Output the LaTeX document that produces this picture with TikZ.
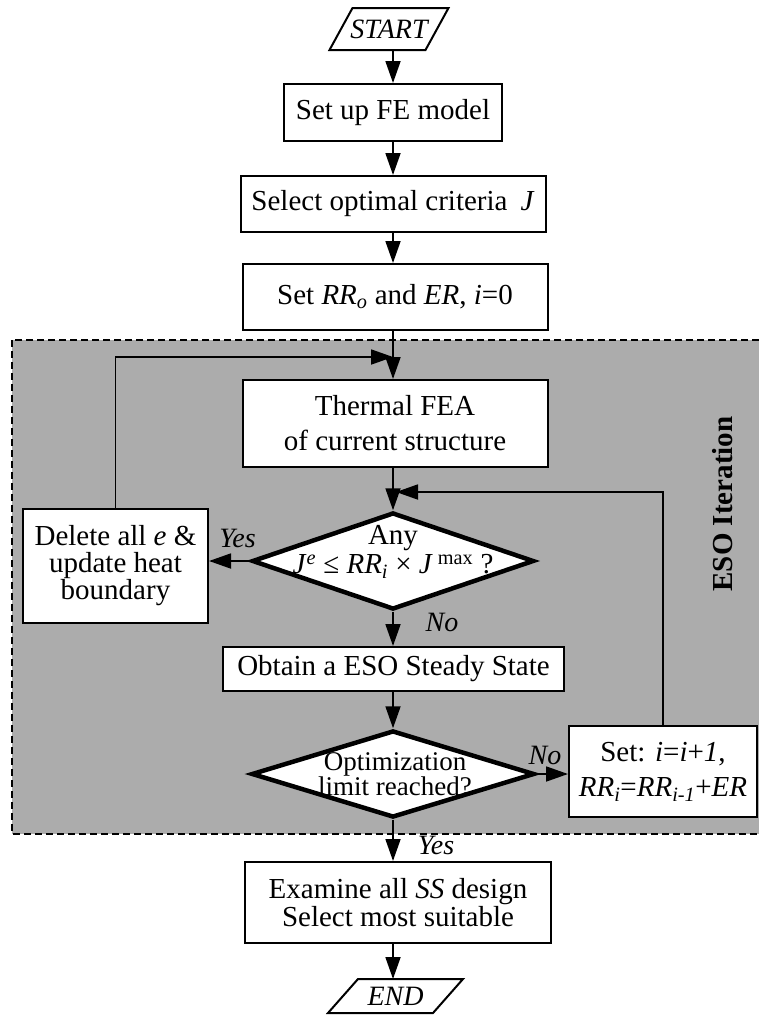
\documentclass[tikz,border=0pt]{standalone}
\usepackage{fontspec}
\setmainfont{Liberation Serif}
\usetikzlibrary{arrows.meta,shapes.geometric,calc}
\definecolor{esogray}{RGB}{172,172,172}
\tikzset{
  box/.style={draw, line width=2pt, fill=white, inner sep=0pt, align=center,
    font=\fontsize{29}{35}\selectfont},
  dia/.style={diamond, draw, line width=4.5pt, fill=white, inner sep=0pt},
  diatext/.style={align=center, inner sep=0pt},
  io/.style={rectangle, inner sep=0pt, outer sep=0pt,
    font=\fontsize{28}{33}\selectfont\itshape},
  conn/.style={line width=1.8pt, -{Triangle[length=22pt,width=15pt]}},
  para/.style={draw, line width=2pt, fill=white, line join=miter},
  lbl/.style={font=\fontsize{28}{33}\selectfont\itshape, inner sep=0pt},
}
\begin{document}
\begin{tikzpicture}[x=1pt,y=-1pt]
\useasboundingbox (0,0) rectangle (758,1015);
\fill[white] (0,0) rectangle (758,1015);
% ESO iteration region
\draw[fill=esogray, line width=1.8pt, dash pattern=on 7pt off 4pt] (12,340) rectangle (766,834);
\node[font=\fontsize{29}{35}\selectfont\bfseries, rotate=90, inner sep=0pt] (eso) at (723,504) {ESO Iteration};

% nodes
\node[io, minimum width=119, minimum height=42] (start) at (389,29) {};
\draw[para] (start.south west) -- ($(start.north west)+(23,0)$) -- (start.north east) -- ($(start.south east)+(-23,0)$) -- cycle;
\node[io] (starttext) at (start) {START};
\node[box, minimum width=218, minimum height=57] (setup) at (393,112.5) {Set up FE model};
\node[box, minimum width=305, minimum height=56] (select) at (393,204) {Select optimal criteria\hspace{0.45em}\textit{J}};
\node[box, minimum width=305, minimum height=66] (setrr) at (395,297) {Set \textit{RR\textsubscript{o}} and \textit{ER}, \textit{i}=0};
\node[box, minimum width=305, minimum height=87] (thermal) at (395,423.5) {Thermal FEA\\of current structure};
\node[dia, minimum width=282, minimum height=97] (d1) at (393,561) {};
\node[diatext, font=\fontsize{29}{29}\selectfont] (d1t) at (393,552) {Any\\\textit{J}\textsuperscript{\textit{e}} ≤ \textit{RR}\textsubscript{\textit{i}} × \textit{J}\,\textsuperscript{max} ?};
\node[box, minimum width=185, minimum height=114, font=\fontsize{29}{27}\selectfont] (delete) at (115.5,566) {Delete all \textit{e} \&\\update heat\\boundary};
\node[box, minimum width=341, minimum height=44] (obtain) at (393.5,669) {Obtain a ESO Steady State};
\node[dia, minimum width=283, minimum height=87] (d2) at (393,774) {};
\node[diatext, font=\fontsize{27}{25}\selectfont] (d2t) at (395,774) {Optimization\\limit reached?};
\node[box, minimum width=188, minimum height=91] (setbox) at (663,771.5) {Set: \textit{i}=\textit{i}+\textit{1},\\\textit{RR\textsubscript{i}}=\textit{RR\textsubscript{i-1}}+\textit{ER}};
\node[box, minimum width=306, minimum height=81, font=\fontsize{29}{28}\selectfont] (examine) at (398,902.5) {Examine all \textit{SS} design\\Select most suitable};
\node[io, minimum width=135, minimum height=34] (end) at (395.5,996) {};
\draw[para] (end.south west) -- ($(end.north west)+(30,0)$) -- (end.north east) -- ($(end.south east)+(-30,0)$) -- cycle;
\node[io] (endtext) at (end) {END};

% feedback coordinates
\coordinate (fb1) at (393,357);
\coordinate (fb2) at (396,492);

% connectors
\draw[conn] (start.south -| setup) -- (setup.north);
\draw[conn] (setup) -- (select);
\draw[conn] (select) -- (select |- setrr.north);
\draw[conn] (setrr.south -| fb1) -- (fb1 |- thermal.north);
\draw[conn] (thermal.south -| d1) -- (d1.north);
\draw[conn] (d1.west) -- (d1.west -| delete.east);
\draw[conn] (delete.north) |- (fb1);
\draw[conn] (d1.south) -- (obtain.north -| d1.south);
\draw[conn] (obtain.south -| d2) -- (d2.north);
\draw[conn] (d2.east) -- (d2.east -| setbox.west);
\draw[conn] (setbox.north) |- (fb2);
\draw[conn] (d2.south) -- (d2.south |- examine.north);
\draw[conn] (examine.south -| d2) -- (d2 |- end.north);

% labels
\node[lbl] (yes1) at (237.5,538) {Yes};
\node[lbl] (no1) at (442,622) {No};
\node[lbl] (no2) at (545,755) {No};
\node[lbl] (yes2) at (436,845) {Yes};
\end{tikzpicture}
\end{document}
